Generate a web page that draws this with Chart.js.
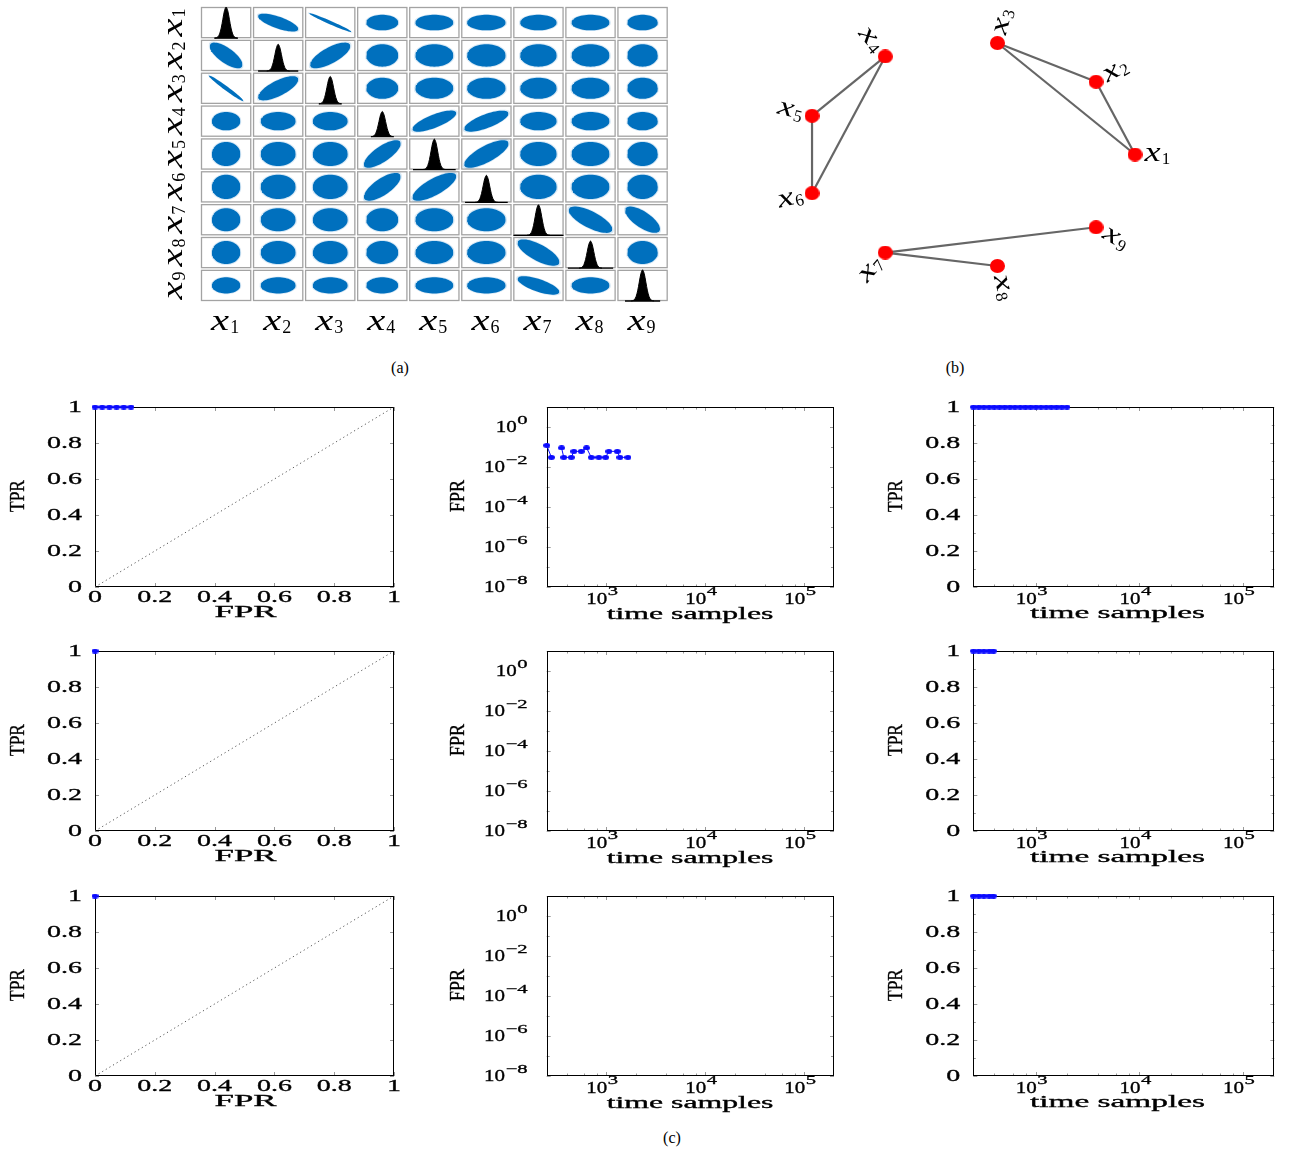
<!DOCTYPE html>
<html><head><meta charset="utf-8">
<script src="https://cdn.jsdelivr.net/npm/chart.js@4.4.0/dist/chart.umd.min.js"></script>
<style>
html,body{margin:0;padding:0;background:#fff;}
#page{position:relative;width:1290px;height:1153px;overflow:hidden;background:#fff;}
canvas{position:absolute;}
.cap{position:absolute;font-family:"Liberation Serif","Times New Roman",serif;font-size:16px;line-height:16px;transform:translateX(-50%);color:#000;}
</style></head><body><div id="page">
<div class="cap" style="left:400px;top:360px">(a)</div>
<div class="cap" style="left:955px;top:360px">(b)</div>
<div class="cap" style="left:672px;top:1130px">(c)</div>
</div>
<script>
// ================= DATA =================
// (a) scatter matrix
const variables = ['1','2','3','4','5','6','7','8','9'];
const corrPairs = [[1,2,-0.72],[1,3,-0.98],[2,3,0.72],[4,5,0.75],[4,6,0.72],[5,6,0.75],[7,8,-0.72],[7,9,-0.7]];
const spreadX = [0.57,0.70,0.70,0.64,0.76,0.77,0.73,0.76,0.61];   // cloud width per column variable
const spreadY = [0.50,0.72,0.68,0.59,0.77,0.78,0.74,0.74,0.52];   // cloud height per row variable
const densityOffsets = [-3.5,-3,-2.5,-2,-1.5,-1,-0.5,0,0.5,1,1.5,2,2.5,3,3.5];
const densityShape = [0.002,0.011,0.044,0.135,0.325,0.607,0.882,1,0.882,0.607,0.325,0.135,0.044,0.011,0.002];
const densityPeak = [1.0,0.86,0.88,0.81,0.98,0.87,0.98,0.87,1.0];
const densityBase = [0.47,0.8,0.45,0.45,0.85,0.85,1.0,0.9,0.7];

// (b) graph
const graphNodes = ['1','2','3','4','5','6','7','8','9'];
const nodeAngles = [0,40,80,120,160,200,240,280,320];
const graphEdges = [[4,5],[4,6],[5,6],[3,2],[3,1],[2,1],[7,9],[7,8]];

// (c) tick values / labels
const unitTicks = [0,0.2,0.4,0.6,0.8,1];
const unitTickLabels = ['0','0.2','0.4','0.6','0.8','1'];
const unitMinor = [0.1,0.3,0.5,0.7,0.9];
const fprTickExp = [0,-2,-4,-6,-8];
const fprMinorExp = [1,-1,-3,-5,-7];
const timeTickExp = [3,4,5];
const timeMinor = [400,600,800,2000,4000,6000,8000,20000,40000,60000,80000];

// (c) series, one entry per row
const rocFPR = [[0,0.024,0.048,0.072,0.096,0.12],[0],[0]];
const rocTPR = [[1,1,1,1,1,1],[1],[1]];
const fprSamples = [[250,279,316,353,372,443,470,558,632,705,841,984,1062,1292,1373,1655],[],[]];
const fprValues  = [[0.121,0.0303,null,0.0909,0.0303,0.0303,0.0606,0.0606,0.0909,0.0303,0.0303,0.0303,0.0606,0.0606,0.0303,0.0303],[],[]];
const tprSamples = [[251,282,316,355,398,447,501,562,631,708,794,891,1000,1122,1259,1413,1585,1778,1995],[251,282,316,355,390],[251,282,316,355,390]];
const tprValues  = [[1,1,1,1,1,1,1,1,1,1,1,1,1,1,1,1,1,1,1],[1,1,1,1,1],[1,1,1,1,1]];

// ================= HELPERS =================
const FONT = '"Liberation Serif","Times New Roman",serif';
const page = document.getElementById('page');

function makeChart(rx, ry, rw, rh, area, config) {
  const c = document.createElement('canvas');
  c.width = rw; c.height = rh;
  c.style.left = rx + 'px'; c.style.top = ry + 'px';
  c.style.width = rw + 'px'; c.style.height = rh + 'px';
  page.appendChild(c);
  config.options = Object.assign({
    responsive: false, animation: false, events: [],
    layout: {padding: {left: area.l - rx, right: rx + rw - area.r, top: area.t - ry, bottom: ry + rh - area.b}},
    plugins: {legend: {display: false}, tooltip: {enabled: false}}
  }, config.options);
  return new Chart(c, config);
}

function ellipseMarker(w, h, color) {
  const c = document.createElement('canvas');
  c.width = w; c.height = h;
  const g = c.getContext('2d');
  g.fillStyle = color; g.beginPath(); g.ellipse(w / 2, h / 2, w / 2, h / 2, 0, 0, 2 * Math.PI); g.fill();
  return c;
}

function txt(ctx, s, x, y, o) {
  ctx.save();
  ctx.translate(x, y);
  if (o.sx) ctx.scale(o.sx, 1);
  if (o.rot) ctx.rotate(o.rot);
  ctx.font = o.font;
  let k = o.tsx || 1;
  if (o.w) k = o.w / ctx.measureText(s).width;
  ctx.scale(k, 1);
  ctx.fillStyle = '#000';
  ctx.textAlign = o.align || 'center';
  ctx.textBaseline = o.base || 'middle';
  ctx.fillText(s, 0, 0);
  if (o.stroke) { ctx.strokeStyle = '#000'; ctx.lineWidth = o.stroke; ctx.strokeText(s, 0, 0); }
  ctx.restore();
}

// italic x with an upright subscript digit
function mathX(ctx, digit, x, y, o) {
  ctx.save();
  ctx.translate(x, y);
  ctx.rotate(o.rot || 0);
  const fx = `italic ${o.F}px ${FONT}`, fd = `${o.Fd}px ${FONT}`;
  ctx.font = fx; const wx = ctx.measureText('x').width * o.xs;
  ctx.font = fd; const wd = ctx.measureText(digit).width;
  const w = wx + 1 + wd;
  const x0 = o.align === 'left' ? 0 : (o.align === 'right' ? -w : -w / 2);
  const half = 0.23 * o.F;
  ctx.fillStyle = '#000'; ctx.textAlign = 'left'; ctx.textBaseline = 'alphabetic';
  ctx.save(); ctx.translate(x0, half); ctx.scale(o.xs, 1); ctx.font = fx; ctx.fillText('x', 0, 0); ctx.restore();
  ctx.font = fd; ctx.fillText(digit, x0 + wx + 1, half + o.sub);
  ctx.restore();
}

function pow10Label(ctx, e, x, y, mode) {
  const es = e < 0 ? '\u2212' + (-e) : String(e);
  const fb = `17.5px ${FONT}`, fe = `12.5px ${FONT}`;
  const SXB = 1.2, SXE = 1.65;
  ctx.save(); ctx.font = fe; const we = ctx.measureText(es).width * SXE; ctx.restore();
  if (mode === 'y') {
    const xe = x - we;
    txt(ctx, '10', xe - 0.5, y, {font: fb, sx: SXB, align: 'right', stroke: 0.35});
    txt(ctx, es, xe, y - 3.5, {font: fe, sx: SXE, align: 'left', base: 'alphabetic', stroke: 0.3});
  } else {
    const xb = x + 1;
    txt(ctx, '10', xb, y + 12, {font: fb, sx: SXB, align: 'right', stroke: 0.35});
    txt(ctx, es, xb + 0.5, y + 7.5, {font: fe, sx: SXE, align: 'left', base: 'alphabetic', stroke: 0.3});
  }
}

// ================= (a) SCATTER MATRIX =================
(function () {
  const gapX = 0.035, gapY = 0.052;
  const blue = 'rgb(0,112,190)', blueHalo = 'rgba(0,112,190,0.16)';
  function corr(i, j) {
    for (const [a, b, r] of corrPairs) if ((a === i + 1 && b === j + 1) || (a === j + 1 && b === i + 1)) return r;
    return 0;
  }
  function ellipseSets(cx, cy, hx, hy, rho, color) {
    const s = Math.sqrt(1 - rho * rho), lo = [], up = [], n = 30;
    for (let t = 0; t <= n; t++) {
      const u = -Math.cos(Math.PI * t / n), r = Math.sqrt(Math.max(0, 1 - u * u));
      lo.push({x: cx + hx * u, y: cy + hy * (rho * u - s * r)});
      up.push({x: cx + hx * u, y: cy + hy * (rho * u + s * r)});
    }
    return [
      {data: lo, pointRadius: 0, borderWidth: 0, borderColor: 'rgba(0,0,0,0)', fill: false, tension: 0},
      {data: up, pointRadius: 0, borderWidth: 0, borderColor: 'rgba(0,0,0,0)', fill: '-1', backgroundColor: color, tension: 0}
    ];
  }
  const solid = [], halo = [], dens = [];
  for (let i = 0; i < 9; i++) for (let j = 0; j < 9; j++) {
    const cx = j + (1 - gapX) / 2, cy = 8 - i + gapY + (1 - gapY) / 2;
    if (i === j) {
      const bottom = 8 - i + gapY, sig = 0.065 * (1 - gapX);
      dens.push({data: densityOffsets.map((o, k) => ({x: cx + o * sig, y: bottom + densityShape[k] * densityPeak[i] * (1 - gapY)})),
        pointRadius: 0, borderWidth: 1, borderColor: '#000', backgroundColor: '#000', fill: {value: bottom}, tension: 0.3});
      const hw = densityBase[i] * (1 - gapX) / 2;
      dens.push({data: [{x: cx - hw, y: bottom}, {x: cx + hw, y: bottom}], pointRadius: 0, borderWidth: 1.3, borderColor: '#000', fill: false});
      continue;
    }
    const rho = corr(i, j), k = 1 + 0.2 * Math.abs(rho);
    const hx = spreadX[j] / 2 * (1 - gapX) * k, hy = spreadY[i] / 2 * (1 - gapY) * k;
    solid.push(...ellipseSets(cx, cy, hx, hy, rho, blue));
    halo.push(...ellipseSets(cx, cy, hx * 1.07, hy * 1.09, rho, blueHalo));
  }
  const cellPlugin = {
    id: 'cells',
    beforeDatasetsDraw(chart) {
      const ctx = chart.ctx, xs = chart.scales.x, ys = chart.scales.y;
      ctx.save(); ctx.strokeStyle = '#a3a3a3'; ctx.lineWidth = 1.3;
      for (let i = 0; i < 9; i++) for (let j = 0; j < 9; j++) {
        const x0 = xs.getPixelForValue(j), x1 = xs.getPixelForValue(j + 1 - gapX);
        const y0 = ys.getPixelForValue(9 - i), y1 = ys.getPixelForValue(8 - i + gapY);
        ctx.strokeRect(x0 + 0.5, y0 + 0.5, x1 - x0 - 1, y1 - y0 - 1);
      }
      ctx.restore();
    },
    afterDraw(chart) {
      const ctx = chart.ctx, xs = chart.scales.x, ys = chart.scales.y;
      variables.forEach((v, j) => {
        const cx = xs.getPixelForValue(j + (1 - gapX) / 2);
        mathX(ctx, v, cx - 1, 323.3, {F: 29, Fd: 18, xs: 1.4, sub: 3.3, align: 'center'});
      });
      variables.forEach((v, i) => {
        const cy = ys.getPixelForValue(8 - i + gapY + (1 - gapY) / 2);
        mathX(ctx, v, 175 - 150, cy, {F: 29, Fd: 18, xs: 1.4, sub: 3.3, align: 'center', rot: -Math.PI / 2});
      });
    }
  };
  makeChart(150, 0, 540, 345, {l: 201, r: 669.5, t: 7, b: 302.7}, {
    type: 'line',
    data: {datasets: [...dens, ...solid, ...halo]},
    options: {scales: {x: {type: 'linear', min: 0, max: 9, display: false}, y: {type: 'linear', min: 0, max: 9, display: false}}},
    plugins: [cellPlugin]
  });
})();

// ================= (b) GRAPH =================
(function () {
  const pos = nodeAngles.map(a => ({x: Math.cos(a * Math.PI / 180), y: Math.sin(a * Math.PI / 180)}));
  const edgeSets = graphEdges.map(([a, b]) => ({data: [pos[a - 1], pos[b - 1]], borderColor: '#666', borderWidth: 2.2, pointRadius: 0, fill: false}));
  const nodeSet = {data: pos, showLine: false, pointRadius: 7, pointStyle: ellipseMarker(15, 14, '#ff0000'), borderColor: '#ff0000'};
  const labelPlugin = {
    id: 'nodeLabels',
    afterDatasetsDraw(chart) {
      const ctx = chart.ctx, xs = chart.scales.x, ys = chart.scales.y;
      const cxp = xs.getPixelForValue(0), cyp = ys.getPixelForValue(0);
      graphNodes.forEach((d, i) => {
        const px = xs.getPixelForValue(pos[i].x), py = ys.getPixelForValue(pos[i].y);
        let dx = px - cxp, dy = py - cyp; const L = Math.hypot(dx, dy); dx /= L; dy /= L;
        const sa = Math.atan2(dy, dx), right = dx > -0.05;
        mathX(ctx, d, px + dx * 9.5, py + dy * 9.5, {rot: right ? sa : sa + Math.PI, align: right ? 'left' : 'right', F: 27, Fd: 17, xs: 1.35, sub: 3});
      });
    }
  };
  makeChart(740, 0, 460, 310, {l: 968.5 - 1.2 * 166.5, r: 968.5 + 1.2 * 166.5, t: 154.5 - 1.2 * 113.2, b: 154.5 + 1.2 * 113.2}, {
    type: 'line',
    data: {datasets: [nodeSet, ...edgeSets]},
    options: {scales: {x: {type: 'linear', min: -1.2, max: 1.2, display: false}, y: {type: 'linear', min: -1.2, max: 1.2, display: false}}},
    plugins: [labelPlugin]
  });
})();

// ================= (c) GRID OF 3x3 =================
const rowOffsets = [0, 244, 488.5];
const BOX_T = 407.2, BOX_B = 587.5;
const cols = [
  {l: 95, r: 394, rx: 0, rw: 430, kind: 'roc', ylab: 'TPR', ylx: 18.5, xlab: 'FPR', xlw: 62, xlx: 245.5, xly: 25.8},
  {l: 546.7, r: 834, rx: 440, rw: 420, kind: 'fpr', ylab: 'FPR', ylx: 458.3, xlab: 'time samples', xlw: 166.7, xlx: 690, xly: 27.5},
  {l: 973.3, r: 1274.3, rx: 875, rw: 415, kind: 'tpr', ylab: 'TPR', ylx: 896.7, xlab: 'time samples', xlw: 175, xlx: 1117.5, xly: 26.5}
];
const BLUE = '#0a0aff';
const blueMarker = ellipseMarker(7, 5, BLUE);

function blueSet(xsArr, ysArr) {
  return {data: xsArr.map((x, k) => ({x, y: ysArr[k]})), borderColor: BLUE, borderWidth: 1, pointRadius: 3,
    pointStyle: blueMarker, fill: false, clip: false, tension: 0, spanGaps: false};
}

function axesPlugin(col) {
  return {
    id: 'axesC',
    beforeDatasetsDraw(chart) {
      const ctx = chart.ctx, a = chart.chartArea, xs = chart.scales.x, ys = chart.scales.y;
      const L = a.left, R = a.right, T = a.top, B = a.bottom;
      ctx.save(); ctx.strokeStyle = '#999'; ctx.lineWidth = 1;
      const vt = (v, len) => { const p = Math.round(xs.getPixelForValue(v)) + 0.5; ctx.beginPath(); ctx.moveTo(p, B); ctx.lineTo(p, B - len); ctx.moveTo(p, T); ctx.lineTo(p, T + len); ctx.stroke(); };
      const ht = (v, len) => { const p = Math.round(ys.getPixelForValue(v)) + 0.5; ctx.beginPath(); ctx.moveTo(L, p); ctx.lineTo(L + len, p); ctx.moveTo(R, p); ctx.lineTo(R - len, p); ctx.stroke(); };
      if (col.kind === 'roc') { unitTicks.forEach(v => { vt(v, 4); ht(v, 4); }); }
      else {
        timeTickExp.forEach(e => vt(Math.pow(10, e), 4)); timeMinor.forEach(v => vt(v, 2.5));
        if (col.kind === 'fpr') { fprTickExp.forEach(e => ht(Math.pow(10, e), 4)); fprMinorExp.forEach(e => ht(Math.pow(10, e), 3)); }
        else { unitTicks.forEach(v => ht(v, 4)); unitMinor.forEach(v => ht(v, 2.5)); }
      }
      ctx.strokeStyle = '#000';
      ctx.strokeRect(Math.round(L) + 0.5, Math.round(T) + 0.5, Math.round(R) - Math.round(L) - 1, Math.round(B) - Math.round(T) - 1);
      ctx.restore();
    },
    afterDraw(chart) {
      const ctx = chart.ctx, a = chart.chartArea, xs = chart.scales.x, ys = chart.scales.y;
      const ox = chart.canvas.offsetLeft, numFont = `17.5px ${FONT}`;
      if (col.kind === 'fpr') fprTickExp.forEach(e => pow10Label(ctx, e, a.left - 19.2, ys.getPixelForValue(Math.pow(10, e)), 'y'));
      else unitTicks.forEach((v, k) => txt(ctx, unitTickLabels[k], a.left - 13, ys.getPixelForValue(v), {font: numFont, sx: 1.6, align: 'right', stroke: 0.35}));
      if (col.kind === 'roc') unitTicks.forEach((v, k) => txt(ctx, unitTickLabels[k], xs.getPixelForValue(v), a.bottom + 10, {font: numFont, sx: 1.6, stroke: 0.35}));
      else timeTickExp.forEach(e => pow10Label(ctx, e, xs.getPixelForValue(Math.pow(10, e)), a.bottom, 'x'));
      txt(ctx, col.xlab, col.xlx - ox, a.bottom + col.xly, {font: `17px ${FONT}`, w: col.xlw, stroke: 0.35});
      txt(ctx, col.ylab, col.ylx - ox, (a.top + a.bottom) / 2 - 1, {font: `20px ${FONT}`, rot: -Math.PI / 2, w: 32, stroke: 0.35});
    }
  };
}

for (let r = 0; r < 3; r++) {
  const dy = rowOffsets[r];
  cols.forEach((col, c) => {
    const area = {l: col.l, r: col.r, t: BOX_T + dy, b: BOX_B + dy};
    const ry = area.t - 16, rh = (area.b - area.t) + 56;
    let datasets, scales;
    if (col.kind === 'roc') {
      datasets = [blueSet(rocFPR[r], rocTPR[r]),
        {data: [{x: 0, y: 0}, {x: 1, y: 1}], borderColor: '#555', borderWidth: 1, borderDash: [1.2, 3], pointRadius: 0, fill: false}];
      scales = {x: {type: 'linear', min: 0, max: 1, display: false}, y: {type: 'linear', min: 0, max: 1, display: false}};
    } else if (col.kind === 'fpr') {
      datasets = [blueSet(fprSamples[r], fprValues[r])];
      scales = {x: {type: 'logarithmic', min: 250, max: 200000, display: false}, y: {type: 'logarithmic', min: 1e-8, max: 10, display: false}};
    } else {
      datasets = [blueSet(tprSamples[r], tprValues[r])];
      scales = {x: {type: 'logarithmic', min: 250, max: 200000, display: false}, y: {type: 'linear', min: 0, max: 1, display: false}};
    }
    makeChart(col.rx, ry, col.rw, rh, area, {type: 'line', data: {datasets}, options: {scales}, plugins: [axesPlugin(col)]});
  });
}
</script>
</body></html>
